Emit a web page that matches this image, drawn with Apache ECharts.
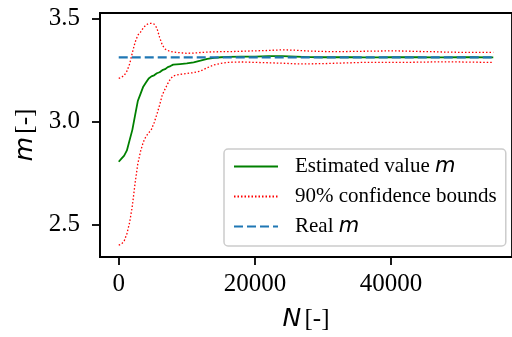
<!DOCTYPE html>
<html>
<head>
<meta charset="utf-8">
<script src="https://cdn.jsdelivr.net/npm/echarts@6/dist/echarts.min.js"></script>
<style>
  html, body { margin: 0; padding: 0; background: #fff; }
  #chart { width: 512px; height: 337px; }
</style>
</head>
<body>
<div id="chart"></div>
<script>
// sample sizes N
const nValues = [0, 400, 800, 1200, 1600, 2000, 2400, 2800, 3200, 3600, 4000, 4400, 4800,
  5200, 5600, 6000, 6400, 6800, 7200, 7600, 8000, 9000, 10000, 11000, 12000, 13000, 14000,
  15000, 16000, 18000, 20000, 22000, 24000, 26000, 28000, 30000, 32000, 34000, 36000, 38000,
  40000, 42000, 44000, 46000, 48000, 50000, 52000, 54000, 55000];

const estimated = [2.805, 2.82, 2.835, 2.86, 2.91, 2.96, 3.03, 3.10, 3.135, 3.17, 3.19, 3.21, 3.22,
  3.225, 3.235, 3.24, 3.25, 3.255, 3.265, 3.27, 3.277, 3.28, 3.283, 3.288, 3.296, 3.305, 3.31,
  3.313, 3.315, 3.316, 3.316, 3.318, 3.318, 3.316, 3.314, 3.313, 3.313, 3.313, 3.312, 3.312,
  3.313, 3.313, 3.313, 3.312, 3.312, 3.313, 3.313, 3.312, 3.312];

const upperBound = [3.21, 3.215, 3.225, 3.245, 3.28, 3.335, 3.385, 3.42, 3.435, 3.455, 3.47, 3.477, 3.478,
  3.474, 3.455, 3.41, 3.372, 3.353, 3.346, 3.341, 3.338, 3.335, 3.332, 3.333, 3.336, 3.338, 3.339,
  3.34, 3.34, 3.342, 3.344, 3.346, 3.349, 3.347, 3.343, 3.341, 3.34, 3.341, 3.342, 3.343,
  3.344, 3.343, 3.341, 3.34, 3.338, 3.337, 3.337, 3.337, 3.337];

const lowerBound = [2.40, 2.405, 2.42, 2.455, 2.51, 2.59, 2.70, 2.795, 2.855, 2.90, 2.928, 2.945, 2.962,
  2.995, 3.035, 3.08, 3.13, 3.158, 3.185, 3.208, 3.222, 3.23, 3.234, 3.238, 3.246, 3.262, 3.276,
  3.283, 3.288, 3.29, 3.288, 3.286, 3.284, 3.281, 3.281, 3.282, 3.284, 3.286, 3.288, 3.288,
  3.288, 3.288, 3.289, 3.29, 3.29, 3.29, 3.289, 3.288, 3.288];

const realM = 3.312;
const nRange = [0, 55000];

const xTicks = [0, 20000, 40000];
const yTicks = [2.5, 3.0, 3.5];

const zip = (xs, ys) => xs.map((x, i) => [x, ys[i]]);

const serif = 'Liberation Serif';
const chart = echarts.init(document.getElementById('chart'));

const legendText = {
  'Estimated value m': '{t|Estimated value }{i|m}',
  '90% confidence bounds': '{t|90% confidence bounds}',
  'Real m': '{t|Real }{i|m}'
};

const axisCommon = {
  axisLine: { show: true, onZero: false, lineStyle: { color: '#000', width: 1.8 } },
  axisTick: { show: true, length: 8, lineStyle: { color: '#000', width: 1.8 } },
  splitLine: { show: false },
  nameTextStyle: {
    rich: {
      i: { fontFamily: 'DejaVu Sans', fontStyle: 'italic', fontSize: 25, color: '#000' },
      r: { fontFamily: serif, fontSize: 25, color: '#000' }
    }
  }
};

const option = {
  animation: false,
  backgroundColor: '#fff',
  grid: {
    left: 100, right: -5, top: 13, bottom: 80, containLabel: false,
    show: true, borderColor: '#000', borderWidth: 1.8, backgroundColor: 'transparent'
  },
  xAxis: Object.assign({}, axisCommon, {
    type: 'value',
    min: -2750,
    max: 57750,
    name: '{i|N} {r|[-]}',
    nameLocation: 'middle',
    nameGap: 50,
    axisTick: Object.assign({}, axisCommon.axisTick, { customValues: xTicks }),
    axisLabel: {
      customValues: xTicks,
      margin: 15,
      fontFamily: serif, fontSize: 25, color: '#000',
      formatter: v => String(v)
    }
  }),
  yAxis: Object.assign({}, axisCommon, {
    type: 'value',
    min: 2.342,
    max: 3.528,
    name: '{i|m} {r|[-]}',
    nameLocation: 'middle',
    nameGap: 62,
    axisTick: Object.assign({}, axisCommon.axisTick, { customValues: yTicks }),
    axisLabel: {
      customValues: yTicks,
      margin: 20,
      fontFamily: serif, fontSize: 25, color: '#000',
      formatter: v => v.toFixed(1)
    }
  }),
  legend: {
    orient: 'vertical',
    left: 224,
    top: 149,
    itemWidth: 44,
    itemHeight: 14,
    itemGap: 9,
    padding: [7, 9, 9, 9],
    backgroundColor: 'rgba(255,255,255,0.8)',
    borderColor: '#cccccc',
    borderWidth: 1.5,
    borderRadius: 4,
    itemStyle: { opacity: 0 },
    data: ['Estimated value m', '90% confidence bounds', 'Real m'],
    formatter: name => legendText[name],
    textStyle: {
      padding: [0, 0, 0, 12],
      rich: {
        t: { fontFamily: serif, fontSize: 21, color: '#000' },
        i: { fontFamily: 'DejaVu Sans', fontStyle: 'italic', fontSize: 21, color: '#000' }
      }
    }
  },
  series: [
    {
      name: 'Estimated value m',
      type: 'line',
      data: zip(nValues, estimated),
      symbol: 'none',
      lineStyle: { color: '#008000', width: 1.8 },
      itemStyle: { color: '#008000' }
    },
    {
      name: '90% confidence bounds',
      type: 'line',
      data: zip(nValues, upperBound),
      symbol: 'none',
      lineStyle: { color: '#ff0000', width: 1.3, type: [1.5, 2] },
      itemStyle: { color: '#ff0000' }
    },
    {
      name: '90% confidence bounds',
      type: 'line',
      data: zip(nValues, lowerBound),
      symbol: 'none',
      lineStyle: { color: '#ff0000', width: 1.3, type: [1.5, 2] },
      itemStyle: { color: '#ff0000' }
    },
    {
      name: 'Real m',
      type: 'line',
      data: nRange.map(n => [n, realM]),
      symbol: 'none',
      lineStyle: { color: '#1f77b4', width: 2.2, type: [9, 4] },
      itemStyle: { color: '#1f77b4' }
    }
  ]
};

chart.setOption(option);
</script>
</body>
</html>
